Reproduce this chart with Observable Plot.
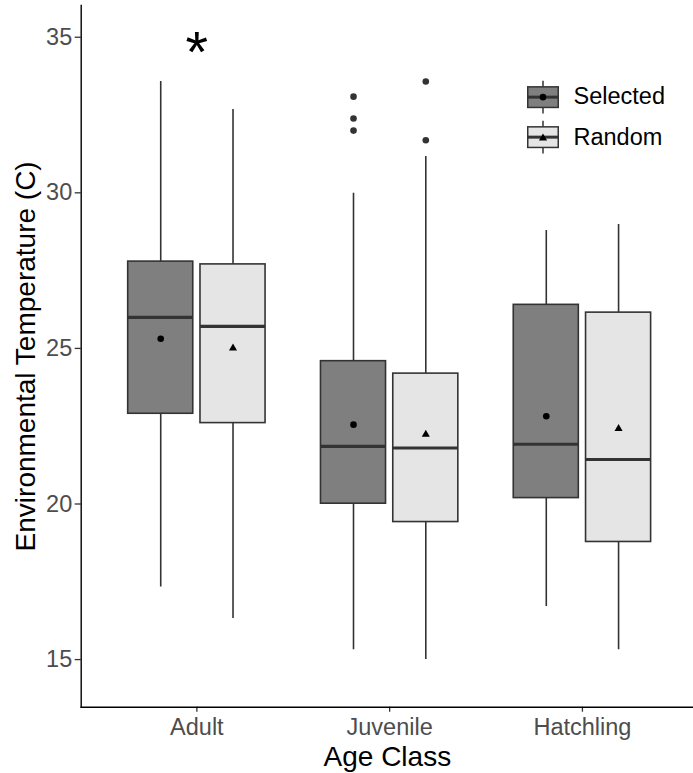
<!DOCTYPE html>
<html><head><meta charset="utf-8">
<script src="https://cdn.jsdelivr.net/npm/d3@7"></script>
<script src="https://cdn.jsdelivr.net/npm/@observablehq/plot@0.6"></script>
<style>
body{margin:0;background:#fff;font-family:"Liberation Sans",Arial,sans-serif;}
#wrap{position:relative;width:693px;height:773px;overflow:hidden;}
#legend{position:absolute;left:526.5px;top:76.85px;}
.row{display:flex;align-items:center;height:40.3px;}
.row span{font-size:23.5px;margin-left:15px;color:#000;line-height:1;}
</style></head><body><div id="wrap"><div id="chart"></div><div id="legend"></div></div>
<script>
// ---- data ----
const categories = ["Adult", "Juvenile", "Hatchling"];
const groups = ["Selected", "Random"];
const fills = ["#7f7f7f", "#e5e5e5"];

const selLower  = [17.33, 15.32, 16.71];
const selQ1     = [22.90, 20.01, 20.19];
const selMedian = [26.00, 21.85, 21.92];
const selQ3     = [27.79, 24.59, 26.40];
const selUpper  = [33.58, 29.99, 28.79];
const selMean   = [25.31, 22.55, 22.82];

const rndLower  = [16.32, 15.00, 15.32];
const rndQ1     = [22.60, 19.42, 18.78];
const rndMedian = [25.71, 21.80, 21.43];
const rndQ3     = [27.70, 24.19, 26.15];
const rndUpper  = [32.68, 31.17, 28.98];
const rndMean   = [25.01, 22.24, 22.42];

const outlierCategory = ["Juvenile", "Juvenile", "Juvenile", "Juvenile", "Juvenile"];
const outlierGroup    = ["Selected", "Selected", "Selected", "Random", "Random"];
const outlierValue    = [33.09, 32.39, 32.00, 33.58, 31.69];

const annotationCategory = ["Adult"];
const annotationValue = [34.48];
const annotationLabel = ["*"];

const yTicks = [15, 20, 25, 30, 35];

// ---- build tables ----
const dodge = 0.1875, half = 0.16875;
const pos = (cat, grp) => categories.indexOf(cat) + 1 + (grp === "Selected" ? -dodge : dodge);
const stats = {Selected: [selLower, selQ1, selMedian, selQ3, selUpper, selMean],
               Random:   [rndLower, rndQ1, rndMedian, rndQ3, rndUpper, rndMean]};
const boxes = categories.flatMap((c, i) => groups.map(g => {
  const s = stats[g];
  const p = pos(c, g);
  return {category: c, group: g, x: p, x1: p - half, x2: p + half,
    lower: s[0][i], q1: s[1][i], median: s[2][i], q3: s[3][i], upper: s[4][i], mean: s[5][i]};
}));
const outliers = outlierValue.map((v, i) => ({x: pos(outlierCategory[i], outlierGroup[i]), y: v}));
const annotations = annotationLabel.map((t, i) => ({x: categories.indexOf(annotationCategory[i]) + 1, y: annotationValue[i], t}));

const chart = Plot.plot({
  width: 693, height: 773,
  marginLeft: 80.7, marginRight: 0, marginTop: 5, marginBottom: 66.3,
  style: {fontFamily: "'Liberation Sans', Arial, sans-serif", background: "#fff", overflow: "visible"},
  x: {type: "linear", domain: [0.4, 3.6], range: [80.7, 697.6]},
  y: {domain: [13.47, 36.02]},
  color: {domain: groups, range: fills},
  marks: [
    Plot.ruleX(boxes, {x: "x", y1: "lower", y2: "upper", stroke: "#333", strokeWidth: 1.6}),
    Plot.rect(boxes, {x1: "x1", x2: "x2", y1: "q1", y2: "q3", fill: "group", stroke: "#333", strokeWidth: 1.6}),
    Plot.ruleY(boxes, {y: "median", x1: "x1", x2: "x2", stroke: "#333", strokeWidth: 3.2}),
    Plot.dot(boxes.filter(d => d.group === "Selected"), {x: "x", y: "mean", r: 3.3, fill: "#000", symbol: "circle"}),
    Plot.dot(boxes.filter(d => d.group === "Random"), {x: "x", y: "mean", r: 3, fill: "#000", symbol: "triangle"}),
    Plot.dot(outliers, {x: "x", y: "y", r: 3.3, fill: "#333"}),
    Plot.text(annotations, {x: "x", y: "y", text: "t", fontSize: 58, fill: "#000", lineAnchor: "middle"}),
    Plot.axisY({ticks: yTicks, tickSize: 6, tickPadding: 3, fontSize: 23.5, color: "#4d4d4d", stroke: "#333", strokeWidth: 1.3,
      label: "Environmental Temperature (C)", labelAnchor: "center", labelOffset: 65.7, labelArrow: "none"}),
    Plot.axisX({ticks: [1, 2, 3], tickFormat: d => categories[d - 1], tickSize: 5, tickPadding: 6, fontSize: 23.5, color: "#4d4d4d", stroke: "#333", strokeWidth: 1.3,
      label: "Age Class", labelAnchor: "center", labelOffset: 58.3, labelArrow: "none"}),
    Plot.frame({anchor: "left", stroke: "#000", strokeWidth: 1.4}),
    Plot.frame({anchor: "bottom", stroke: "#000", strokeWidth: 1.4})
  ]
});
document.getElementById("chart").appendChild(chart);
// style axis titles black and larger
chart.querySelectorAll("[aria-label='y-axis label'], [aria-label='x-axis label']").forEach(g => {
  g.setAttribute("font-size", 28); g.setAttribute("fill", "#000");
  g.querySelectorAll("text").forEach(t => { t.setAttribute("font-size", 28); t.setAttribute("fill", "#000"); t.style.fill = "#000"; });
});

// ---- legend ----
const legend = document.getElementById("legend");
groups.forEach((g, i) => {
  const row = document.createElement("div");
  row.className = "row";
  const marker = i === 0
    ? '<circle cx="16" cy="20.15" r="3.3" fill="#000"/>'
    : '<path d="M16,16.6 L20.1,23.6 L11.9,23.6 Z" fill="#000"/>';
  row.innerHTML = `<svg width="32" height="40.3" viewBox="0 0 32 40.3">
    <line x1="16" x2="16" y1="3.85" y2="36.45" stroke="#333" stroke-width="1.5"/>
    <rect x="0.75" y="9.85" width="30.5" height="20.6" fill="${fills[i]}" stroke="#333" stroke-width="1.5"/>
    <line x1="0.75" x2="31.25" y1="20.15" y2="20.15" stroke="#333" stroke-width="3"/>
    ${marker}</svg><span>${g}</span>`;
  legend.appendChild(row);
});
</script></body></html>
